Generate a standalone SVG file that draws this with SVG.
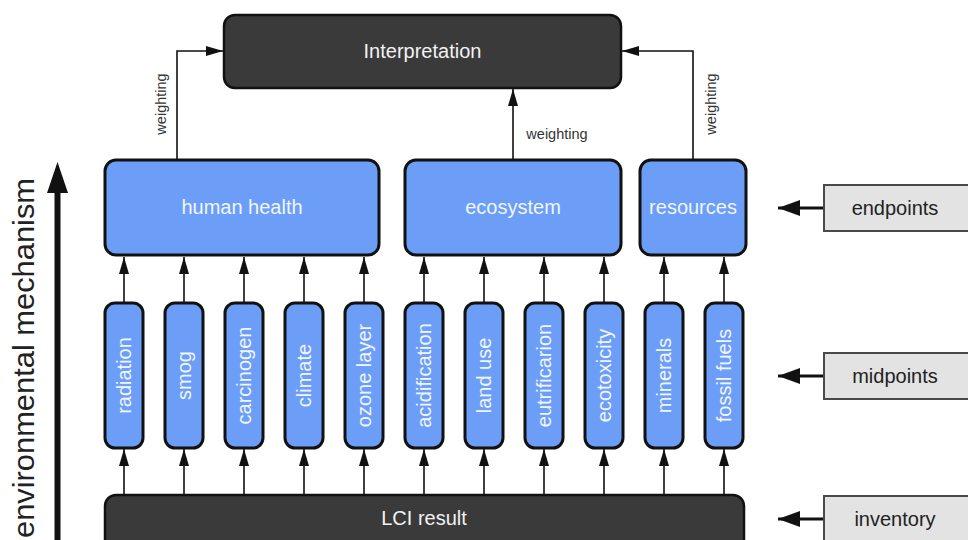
<svg xmlns="http://www.w3.org/2000/svg" width="968" height="540" viewBox="0 0 968 540">
<defs>
<style>
text{font-family:"Liberation Sans",Arial,sans-serif}
.dark{fill:#3a3a3a;stroke:#111;stroke-width:2.5}
.blue{fill:#6c9ef8;stroke:#111;stroke-width:3}
.gray{fill:#e3e3e3;stroke:#4a4a4a;stroke-width:2}
.wt{fill:#f2f2f2;font-size:20px;text-anchor:middle}
.bt{fill:#f0f5ff;font-size:20px;text-anchor:middle}
.gt{fill:#222;font-size:20px;text-anchor:middle}
.lbl{fill:#333;font-size:14.5px;text-anchor:middle}
.c{fill:none;stroke:#111;stroke-width:1.6}
.cb{fill:none;stroke:#111;stroke-width:3}
</style>
<marker id="ah" markerUnits="userSpaceOnUse" markerWidth="17" markerHeight="10" refX="17" refY="5" orient="auto" viewBox="0 0 17 10">
<path d="M0,0 L17,5 L0,10 z" fill="#111"/>
</marker>
<marker id="ahb" markerUnits="userSpaceOnUse" markerWidth="22" markerHeight="16" refX="22" refY="8" orient="auto" viewBox="0 0 22 16">
<path d="M0,0 L22,8 L0,16 z" fill="#111"/>
</marker>
</defs>
<rect width="968" height="540" fill="#fff"/>

<g id="connectors">
<path class="c" d="M177,160 V51 H223" marker-end="url(#ah)"/>
<path class="c" d="M513,160 V89" marker-end="url(#ah)"/>
<path class="c" d="M693,160 V51 H622" marker-end="url(#ah)"/>
<path class="c" d="M124,303 V257" marker-end="url(#ah)"/>
<path class="c" d="M184,303 V257" marker-end="url(#ah)"/>
<path class="c" d="M244,303 V257" marker-end="url(#ah)"/>
<path class="c" d="M304,303 V257" marker-end="url(#ah)"/>
<path class="c" d="M364,303 V257" marker-end="url(#ah)"/>
<path class="c" d="M424,303 V257" marker-end="url(#ah)"/>
<path class="c" d="M484,303 V257" marker-end="url(#ah)"/>
<path class="c" d="M544,303 V257" marker-end="url(#ah)"/>
<path class="c" d="M604,303 V257" marker-end="url(#ah)"/>
<path class="c" d="M664,303 V257" marker-end="url(#ah)"/>
<path class="c" d="M724,303 V257" marker-end="url(#ah)"/>
<path class="c" d="M124,495 V449" marker-end="url(#ah)"/>
<path class="c" d="M184,495 V449" marker-end="url(#ah)"/>
<path class="c" d="M244,495 V449" marker-end="url(#ah)"/>
<path class="c" d="M304,495 V449" marker-end="url(#ah)"/>
<path class="c" d="M364,495 V449" marker-end="url(#ah)"/>
<path class="c" d="M424,495 V449" marker-end="url(#ah)"/>
<path class="c" d="M484,495 V449" marker-end="url(#ah)"/>
<path class="c" d="M544,495 V449" marker-end="url(#ah)"/>
<path class="c" d="M604,495 V449" marker-end="url(#ah)"/>
<path class="c" d="M664,495 V449" marker-end="url(#ah)"/>
<path class="c" d="M724,495 V449" marker-end="url(#ah)"/>
<path class="cb" d="M824,208 H778" marker-end="url(#ahb)"/>
<path class="cb" d="M824,376 H778" marker-end="url(#ahb)"/>
<path class="cb" d="M824,519 H778" marker-end="url(#ahb)"/>
<text class="lbl" transform="translate(166,104) rotate(-90)">weighting</text>
<text class="lbl" x="557" y="139">weighting</text>
<text class="lbl" transform="translate(716,104) rotate(-90)">weighting</text>
</g>

<g id="env-mechanism">
<line x1="57.5" y1="190" x2="57.5" y2="540" stroke="#111" stroke-width="6"/>
<polygon points="57.5,162 47,193 68,193" fill="#111"/>
<text transform="translate(34,358) rotate(-90)" style="font-size:30px;fill:#222;text-anchor:middle" textLength="360" lengthAdjust="spacingAndGlyphs">environmental mechanism</text>
</g>

<g id="interpretation">
<rect class="dark" x="224" y="15" width="397" height="73" rx="11"/>
<text class="wt" x="422.5" y="58">Interpretation</text>
</g>

<g id="human-health">
<rect class="blue" x="105" y="160" width="274" height="95" rx="11"/>
<text class="bt" x="242" y="214">human health</text>
</g>
<g id="ecosystem">
<rect class="blue" x="405" y="160" width="216" height="95" rx="11"/>
<text class="bt" x="513" y="214">ecosystem</text>
</g>
<g id="resources">
<rect class="blue" x="640" y="160" width="106" height="95" rx="11"/>
<text class="bt" x="693" y="214">resources</text>
</g>

<g id="radiation"><rect class="blue" x="105" y="303" width="38" height="145" rx="10"/><text class="bt" transform="translate(131,375.5) rotate(-90)">radiation</text></g>
<g id="smog"><rect class="blue" x="165" y="303" width="38" height="145" rx="10"/><text class="bt" transform="translate(191,375.5) rotate(-90)">smog</text></g>
<g id="carcinogen"><rect class="blue" x="225" y="303" width="38" height="145" rx="10"/><text class="bt" transform="translate(251,375.5) rotate(-90)">carcinogen</text></g>
<g id="climate"><rect class="blue" x="285" y="303" width="38" height="145" rx="10"/><text class="bt" transform="translate(311,375.5) rotate(-90)">climate</text></g>
<g id="ozone-layer"><rect class="blue" x="345" y="303" width="38" height="145" rx="10"/><text class="bt" transform="translate(371,375.5) rotate(-90)">ozone layer</text></g>
<g id="acidification"><rect class="blue" x="405" y="303" width="38" height="145" rx="10"/><text class="bt" transform="translate(431,375.5) rotate(-90)">acidification</text></g>
<g id="land-use"><rect class="blue" x="465" y="303" width="38" height="145" rx="10"/><text class="bt" transform="translate(491,375.5) rotate(-90)">land use</text></g>
<g id="eutrificarion"><rect class="blue" x="525" y="303" width="38" height="145" rx="10"/><text class="bt" transform="translate(551,375.5) rotate(-90)">eutrificarion</text></g>
<g id="ecotoxicity"><rect class="blue" x="585" y="303" width="38" height="145" rx="10"/><text class="bt" transform="translate(611,375.5) rotate(-90)">ecotoxicity</text></g>
<g id="minerals"><rect class="blue" x="645" y="303" width="38" height="145" rx="10"/><text class="bt" transform="translate(671,375.5) rotate(-90)">minerals</text></g>
<g id="fossil-fuels"><rect class="blue" x="705" y="303" width="38" height="145" rx="10"/><text class="bt" transform="translate(731,375.5) rotate(-90)">fossil fuels</text></g>

<g id="lci-result">
<rect class="dark" x="105" y="495" width="639" height="70" rx="11"/>
<text class="wt" x="424" y="525">LCI result</text>
</g>

<g id="endpoints">
<rect class="gray" x="824" y="185" width="160" height="46"/>
<text class="gt" x="895" y="215">endpoints</text>
</g>
<g id="midpoints">
<rect class="gray" x="824" y="353" width="160" height="46"/>
<text class="gt" x="895" y="383">midpoints</text>
</g>
<g id="inventory">
<rect class="gray" x="824" y="496" width="160" height="60"/>
<text class="gt" x="895" y="526">inventory</text>
</g>
</svg>
